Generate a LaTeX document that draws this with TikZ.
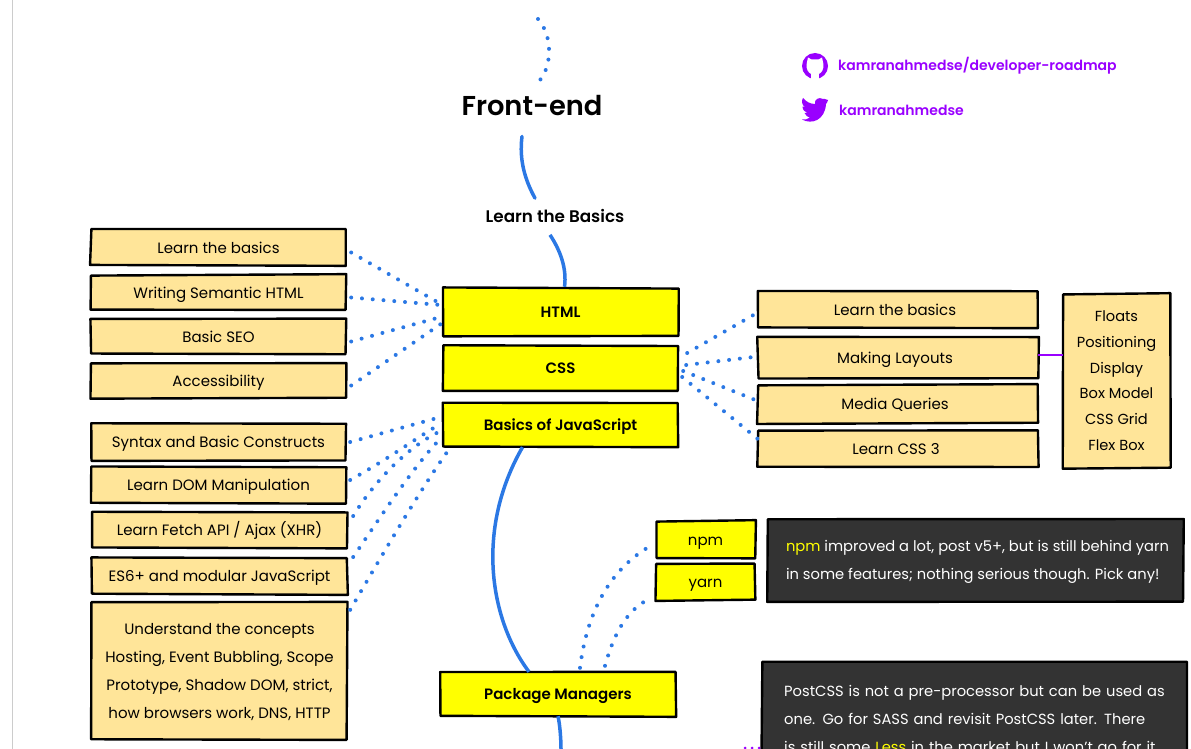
\documentclass[tikz,border=0pt]{standalone}
\usepackage{fontspec}
\setmainfont{Poppins}
\newfontfamily\medfont{Poppins SemiBold}
\usetikzlibrary{calc}
\definecolor{rblue}{HTML}{2B78E4}
\definecolor{rpurple}{HTML}{9900FF}
\definecolor{rcream}{HTML}{FFE599}
\definecolor{rdark}{HTML}{333333}
\definecolor{ryellow}{HTML}{FFFF00}
\tikzset{
 x=1pt,y=-1pt,
 sketchline/.style={draw=black,line width=2.4pt,line join=round},
 bx/.style={inner sep=0pt,align=center,font=\fontsize{15}{28}\selectfont},
 sub/.style={bx,fill=rcream},
 main/.style={bx,fill=ryellow,font=\fontsize{15}{28}\medfont},
 pkg/.style={bx,fill=ryellow,font=\fontsize{15}{28}\selectfont},
 dark/.style={bx,fill=rdark,text=white},
 label/.style={inner sep=0pt,font=\fontsize{16.8}{18}\medfont},
 solidline/.style={rblue,line width=3.5pt,line cap=round},
 dotline/.style={rblue,line width=4pt,line cap=round,dash pattern=on 0pt off 10.8pt},
 link/.style={text=rpurple,inner sep=0pt,anchor=west,font=\fontsize{14}{16}\medfont},
}
\newcommand{\sketchbox}[1]{\draw[sketchline] ([shift={(rand*.8,rand*.8)}]#1.north west) -- ([shift={(rand*.8,rand*.8)}]#1.north east) -- ([shift={(rand*.8,rand*.8)}]#1.south east) -- ([shift={(rand*.8,rand*.8)}]#1.south west) -- cycle;}
\newcommand{\bxat}[7]{\node[#1,minimum width=#5pt-#3pt,minimum height=#6pt-#4pt] (#2) at ({(#3+#5)/2},{(#4+#6)/2}) {\strut #7\strut};\sketchbox{#2}}
\begin{document}
\begin{tikzpicture}
\pgfmathsetseed{7}
\useasboundingbox (0,0) rectangle (1191,749);
\begin{scope}
\clip (0,0) rectangle (1191,749);
\draw[black!20,line width=1pt] (12.5,0) -- (12.5,749);
% title
\node[inner sep=0pt,font=\fontsize{27.3}{30}\medfont] (title) at (532,106) {Front-end};
\node[label] (basics) at (555,216) {Learn the Basics};
\coordinate (topend) at (538,19);
\draw[dotline] (topend) .. controls (556,40) and (550,75) .. ($(title.north)+(3,-11)$);
\draw[solidline] ($(title.south)+(-10,20)$) .. controls (519,160) and (525,180) .. ($(basics.north)+(-20,-11)$);
% main
\bxat{main}{html}{443}{288}{678}{336}{HTML}
\bxat{main}{css}{443}{346}{678}{390}{CSS}
\bxat{main}{js}{443}{403}{678}{447}{Basics of JavaScript}
\bxat{main}{pm}{440}{672}{676}{716}{Package Managers}
\draw[solidline,line cap=butt] ($(basics.south)+(-5,12)$) .. controls (560,250) and (567,268) .. ($(html.north)+(4,-1)$);
\draw[solidline,line cap=butt] ($(js.south)+(-38,0)$) .. controls (475,530) and (490,620) .. ($(pm.north)+(-29,0)$);
\coordinate (botend) at (561,749);
\draw[solidline,line cap=butt] ($(pm.south)+(0,0)$) .. controls (560,725) and (561,740) .. (botend);
% left top
\bxat{sub}{a1}{91}{230}{346}{265}{Learn the basics}
\bxat{sub}{a2}{91}{275}{346}{310}{Writing Semantic HTML}
\bxat{sub}{a3}{91}{319}{346}{354}{Basic SEO}
\bxat{sub}{a4}{91}{363}{346}{398}{Accessibility}
\bxat{sub}{b1}{91}{424}{346}{460}{Syntax and Basic Constructs}
\bxat{sub}{b2}{91}{467}{346}{503}{Learn DOM Manipulation}
\bxat{sub}{b3}{92}{512}{347}{548}{Learn Fetch API / Ajax (XHR)}
\bxat{sub}{b4}{92}{558}{347}{594}{ES6+ and modular JavaScript}
\bxat{sub}{b5}{92}{602}{347}{739}{Understand the concepts\\Hosting, Event Bubbling, Scope\\Prototype, Shadow DOM, strict,\\how browsers work, DNS, HTTP}
% right
\bxat{sub}{c1}{758}{291}{1038}{328}{\kern-6pt Learn the basics}
\bxat{sub}{c2}{758}{337}{1038}{378}{\kern-6pt Making Layouts}
\bxat{sub}{c3}{758}{385}{1038}{423}{\kern-6pt Media Queries}
\bxat{sub}{c4}{758}{431}{1038}{467}{\kern-4pt Learn CSS 3}
\bxat{sub,font=\fontsize{14.6}{25.7}\selectfont}{d}{1063}{294}{1170}{468}{Floats\\Positioning\\Display\\Box Model\\CSS Grid\\Flex Box}
\draw[rpurple,line width=2pt] (c2.east |- 0,355) -- (d.west |- 0,355);
% package
\bxat{pkg}{npm}{656}{521}{755}{558}{npm}
\bxat{pkg}{yarn}{656}{564}{755}{600}{yarn}
\bxat{dark}{n1}{768}{519}{1183}{601}{\begin{minipage}{391pt}\fontsize{14.7}{28}\selectfont\strut\hspace*{6pt}{\color{ryellow}npm} improved a lot, post v5+, but is still behind yarn\\\strut\hspace*{6pt}in some features; nothing serious though. Pick any!\strut\end{minipage}}
\node[dark,anchor=north west,minimum width=424pt,text width=394pt,inner xsep=15pt,inner ysep=15pt,align=left,font=\fontsize{14.7}{28}\selectfont] (n2) at (762,662) {\hspace*{7pt}\strut PostCSS is not a pre-processor but can be used as\\\hspace*{7pt}one. Go for SASS and revisit PostCSS later. There\\\hspace*{7pt}is still some {\color{ryellow}Less} in the market but I won't go for it\strut};
\sketchbox{n2}
\coordinate (pur) at (745,748);
\draw[rpurple,line width=3pt,line cap=round,dash pattern=on 0pt off 7pt] (pur) -- (n2.west |- pur);
% dots left
\foreach \s/\t/\dy in {a1/html/-8, a2/html/-7, a3/html/5, a4/html/12}{
  \draw[dotline] ($(\s.east)+(5,5)$) -- ($(\t.west)+(-2,\dy)$);}
\draw[dotline] ($(b1.east)+(4,0)$) -- ($(js.west)+(-2,-8)$);
\draw[dotline] ($(b2.east)+(4,-5)$) .. controls (395,455) and (420,435) .. ($(js.west)+(-2,-1)$);
\draw[dotline] ($(b3.east)+(6,-14)$) .. controls (375,480) and (410,445) .. ($(js.west)+(-2,6)$);
\draw[dotline] ($(b4.east)+(6,-19)$) .. controls (385,510) and (415,465) .. ($(js.south west)+(-2,-9)$);
\draw[dotline] ($(b5.north east)+(3,8)$) .. controls (385,550) and (420,490) .. ($(js.south west)+(7,1)$);
% dots right
\draw[dotline] ($(css.east)+(9,-15)$) -- ($(c1.west)+(0,3)$);
\draw[dotline] ($(css.east)+(8,-3)$) -- ($(c2.west)+(0,-1)$);
\draw[dotline] ($(css.east)+(5,3)$) -- ($(c3.west)+(0,-3)$);
\draw[dotline] ($(css.east)+(4,9)$) -- ($(c4.west)+(0,-10)$);
% package dots
\draw[dotline] ($(pm.north)+(22,-4)$) .. controls (586,620) and (605,570) .. ($(npm.west)+(-1,4)$);
\draw[dotline] ($(pm.north)+(47,-6)$) .. controls (615,630) and (628,610) .. ($(yarn.west)+(-7,17)$);
% links
\node[link] (gh) at (838,65.5) {kamranahmedse/developer-roadmap};
\node[link] (tw) at (839,110) {kamranahmedse};
\fill[rpurple] (815,66) circle (13);
\fill[white] (808,57.5) -- (811.5,59.5) -- (818.5,59.5) -- (822,57.5) -- (823.2,63) .. controls (824.5,70) and (821,73) .. (818.8,74) -- (819,79.5) -- (811,79.5) -- (811.2,74) .. controls (809,73) and (805.5,70) .. (806.8,63) -- cycle;
\fill[rpurple] (828,100) .. controls (825,99) and (824,98.5) .. (823,99) .. controls (819,96.5) and (814,99.5) .. (815,104) .. controls (810,104) and (806,101.5) .. (803,98) .. controls (801,101) and (802,105) .. (805,107) .. controls (804,107) and (803,107) .. (802.5,106.5) .. controls (802.5,110) and (805,112) .. (807.5,113) .. controls (806.5,113.3) and (805.5,113.3) .. (804.5,113) .. controls (805.5,116) and (808,117) .. (810,117.5) .. controls (808,119) and (805,120) .. (802,119.5) .. controls (812,125) and (825,120) .. (826,104) .. controls (827,103) and (827.5,102) .. cycle;
\end{scope}
\end{tikzpicture}
\end{document}
